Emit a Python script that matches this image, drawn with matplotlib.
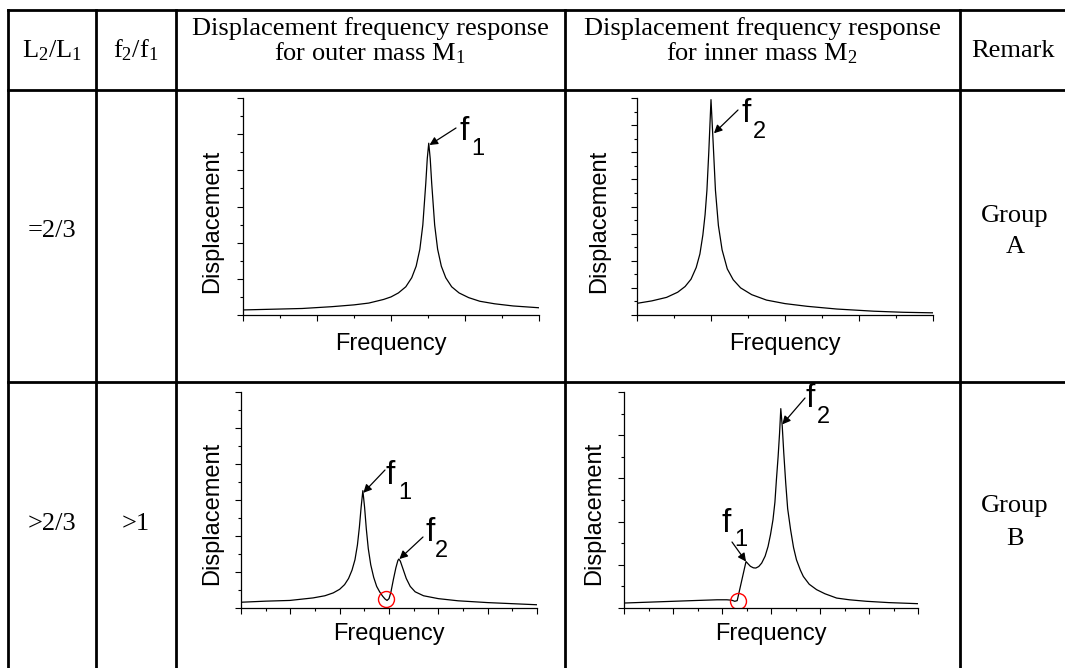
import matplotlib.pyplot as plt
from matplotlib.lines import Line2D
from matplotlib.ticker import MultipleLocator, AutoMinorLocator

plt.rcParams['mathtext.fontset'] = 'custom'
plt.rcParams['mathtext.rm'] = 'Liberation Serif'
plt.rcParams['mathtext.default'] = 'rm'

W, H = 1065, 668

# ---- data (arbitrary units) ----
# row A, outer mass M1
freq_a1 = [0, 4, 8, 12, 15, 17, 19, 20, 21, 22, 22.8, 23.4, 23.9, 24.3, 24.7,
           24.9, 25.1, 25.3, 25.5, 25.9, 26.3, 26.8, 27.4, 28.2, 29.2, 30.5,
           32, 34, 36.5, 40]
disp_a1 = [0.14, 0.16, 0.18, 0.23, 0.28, 0.33, 0.43, 0.50, 0.61, 0.78, 1.03,
           1.35, 1.82, 2.49, 3.64, 4.32, 4.75, 4.32, 3.64, 2.49, 1.82, 1.35,
           1.03, 0.78, 0.61, 0.48, 0.38, 0.31, 0.25, 0.20]
# row A, inner mass M2
freq_a2 = [0, 2, 4, 5.5, 6.5, 7.3, 8.0, 8.5, 8.9, 9.2, 9.45, 9.7, 10.0,
           10.3, 10.6, 11.0, 11.5, 12.2, 13.0, 14.0, 15.5, 17.5, 20, 23, 27,
           32, 36, 40]
disp_a2 = [0.43, 0.52, 0.65, 0.84, 1.05, 1.32, 1.75, 2.25, 2.95, 3.7, 4.6,
           6.0, 7.94, 6.3, 4.6, 3.3, 2.4, 1.7, 1.3, 1.0, 0.75, 0.55, 0.42,
           0.32, 0.22, 0.14, 0.10, 0.08]
# row B, outer mass M1
freq_b1 = [0, 5, 9.9, 14.6, 17, 18.7, 20, 21, 21.8, 22.5, 23.1, 23.6, 24.0,
           24.35, 24.7, 25.05, 25.4, 25.8, 26.3, 26.9, 27.5, 28.1, 28.7, 29.2,
           29.6, 30.0, 30.4, 30.9, 31.4, 31.8, 32.0, 32.3, 32.8, 33.5, 34.3,
           35.3, 37, 40, 44, 50, 55, 60]
disp_b1 = [0.16, 0.19, 0.21, 0.28, 0.34, 0.42, 0.52, 0.65, 0.82, 1.05, 1.34,
           1.75, 2.25, 2.8, 3.26, 2.8, 2.2, 1.65, 1.2, 0.85, 0.6, 0.45, 0.33,
           0.25, 0.21, 0.26, 0.45, 0.8, 1.12, 1.32, 1.36, 1.3, 1.1, 0.82, 0.6,
           0.45, 0.34, 0.26, 0.2, 0.15, 0.12, 0.09]
# row B, inner mass M2
freq_b2 = [0, 10, 15, 19, 21, 22, 22.6, 23.1, 24.9, 25.3, 25.8, 26.4, 26.9,
           27.5, 28.1, 28.8, 29.4, 29.9, 30.4, 30.8, 31.1, 31.45, 31.75, 32.0,
           32.3, 32.6, 33.0, 33.4, 34.0, 34.6, 35.2, 36.0, 36.6, 37.8, 39.3,
           41, 43.4, 46, 49.5, 54, 60]
disp_b2 = [0.23, 0.31, 0.35, 0.38, 0.38, 0.36, 0.31, 0.34, 2.15, 2.05, 1.93,
           1.86, 1.85, 1.92, 2.08, 2.4, 2.85, 3.4, 4.08, 4.9, 5.92, 7.0, 8.1,
           9.23, 8.4, 7.2, 5.8, 4.6, 3.62, 2.8, 2.23, 1.75, 1.46, 1.1, 0.85,
           0.66, 0.46, 0.38, 0.31, 0.25, 0.2]

# red circles (coupling point)
circle_b1 = (29.4, 0.25)
circle_b2 = (23.3, 0.33)

# table text
head_l = [r'L$_2$/L$_1$', r'f$_2$/f$_1$', 'Remark']
head_m1 = ['Displacement frequency response', r'for outer mass M$_1$']
head_m2 = ['Displacement frequency response', r'for inner mass M$_2$']
ratio_l = ['=2/3', '>2/3']
ratio_f = ['', '>1']
groups = ['A', 'B']

fig = plt.figure(figsize=(W / 100, H / 100), dpi=100)


def fx(px):
    return px / W


def fy(py):
    return 1 - py / H


def table_text(px, py, s, **kw):
    fig.text(fx(px), fy(py), s, ha='center', va='baseline',
             family='Liberation Serif', fontsize=19, **kw)


# grid of the table
for y in [10, 90, 382]:
    fig.add_artist(Line2D([fx(8), 1], [fy(y), fy(y)], color='black', lw=2))
for x in [8, 96, 176, 565, 960]:
    fig.add_artist(Line2D([fx(x), fx(x)], [fy(10), 0], color='black', lw=2))

table_text(52, 57, head_l[0])
table_text(136, 57, head_l[1])
table_text(1013, 57, head_l[2])
table_text(370, 35, head_m1[0])
table_text(370, 60, head_m1[1])
table_text(762, 35, head_m2[0])
table_text(762, 60, head_m2[1])

table_text(52, 237, ratio_l[0])
table_text(136, 237, ratio_f[0])
table_text(1015, 222, 'Group')
table_text(1015, 253, groups[0])
table_text(52, 530, ratio_l[1])
table_text(136, 530, ratio_f[1])
table_text(1015, 512, 'Group')
table_text(1015, 545, groups[1])


def make_ax(left, top, right, bottom, xmax, xmaj, ymax, ymaj, ylab_x, ylab_y, xlab_y):
    ax = fig.add_axes([fx(left), fy(bottom), fx(right - left), (bottom - top) / H])
    ax.set_xlim(0, xmax)
    ax.set_ylim(0, ymax)
    ax.spines['top'].set_visible(False)
    ax.spines['right'].set_visible(False)
    for s in ['left', 'bottom']:
        ax.spines[s].set_linewidth(0.9)
    ax.xaxis.set_major_locator(MultipleLocator(xmaj))
    ax.yaxis.set_major_locator(MultipleLocator(ymaj))
    ax.xaxis.set_minor_locator(AutoMinorLocator(2))
    ax.yaxis.set_minor_locator(AutoMinorLocator(2))
    ax.tick_params(which='major', direction='out', length=4, width=0.8,
                   labelbottom=False, labelleft=False)
    ax.tick_params(which='minor', direction='out', length=2.5, width=0.8)
    ax.set_xlabel('Frequency', family='Liberation Sans', fontsize=17)
    ax.set_ylabel('Displacement', family='Liberation Sans', fontsize=17)
    ax.xaxis.set_label_coords(0.5, xlab_y)
    ax.yaxis.set_label_coords(ylab_x, ylab_y)
    ax.patch.set_alpha(0)
    return ax


def f_label(ax, tip, tail_px, f_px, sub_px, sub, box):
    left, top, right, bottom = box

    def ac(p):
        return ((p[0] - left) / (right - left), (bottom - p[1]) / (bottom - top))

    ax.annotate('', xy=tip, xycoords='data', xytext=ac(tail_px),
                textcoords='axes fraction',
                arrowprops=dict(arrowstyle='-|>', color='black', lw=0.9,
                                mutation_scale=12, shrinkA=0, shrinkB=0))
    ax.text(*ac(f_px), 'f', transform=ax.transAxes, ha='left', va='baseline',
            family='Liberation Sans', fontsize=24)
    ax.text(*ac(sub_px), sub, transform=ax.transAxes, ha='left', va='baseline',
            family='Liberation Sans', fontsize=17)


# row A, M1
box = (243, 98, 539, 315)
ax1 = make_ax(*box, 40, 10, 6, 1, -0.068, 0.43, -0.083)
ax1.plot(freq_a1, disp_a1, color='black', lw=0.9)
f_label(ax1, (25.2, 4.7), (456, 128), (459, 140), (471, 155), '1', box)

# row A, M2
box = (637, 98, 933, 315)
ax2 = make_ax(*box, 40, 10, 8, 1, -0.091, 0.43, -0.083)
ax2.plot(freq_a2, disp_a2, color='black', lw=0.9)
f_label(ax2, (10.4, 6.7), (738, 110), (742, 122), (753, 138), '2', box)

# row B, M1
box = (241, 392, 537, 608)
ax3 = make_ax(*box, 60, 10, 6, 1, -0.061, 0.44, -0.069)
ax3.plot(freq_b1, disp_b1, color='black', lw=0.9)
ax3.plot(*circle_b1, 'o', ms=11.5, mfc='none', mec='red', mew=1)
f_label(ax3, (24.8, 3.2), (385, 470), (386, 484), (398, 499), '1', box)
f_label(ax3, (32.1, 1.36), (423, 537), (425, 541), (435, 557), '2', box)

# row B, M2
box = (624, 392, 918, 608)
ax4 = make_ax(*box, 60, 10, 10, 2, -0.065, 0.44, -0.069)
ax4.plot(freq_b2, disp_b2, color='black', lw=0.9)
ax4.plot(*circle_b2, 'o', ms=11.5, mfc='none', mec='red', mew=1)
f_label(ax4, (24.9, 2.15), (732, 542), (722, 532), (734, 546), '1', box)
f_label(ax4, (32.3, 8.5), (805, 398), (806, 407), (817, 423), '2', box)

fig.savefig('out.png', dpi=100)
